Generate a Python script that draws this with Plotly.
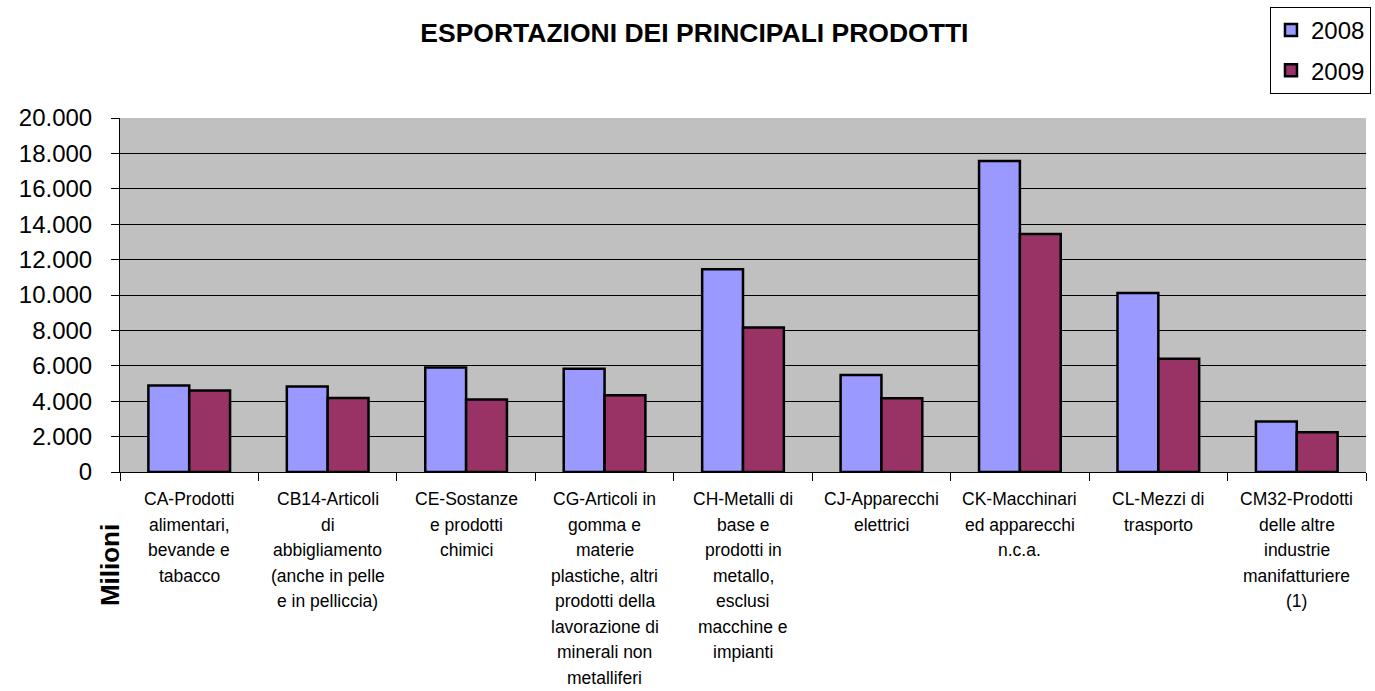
import plotly.graph_objects as go

categories = [
    "CA-Prodotti alimentari, bevande e tabacco",
    "CB14-Articoli di abbigliamento (anche in pelle e in pelliccia)",
    "CE-Sostanze e prodotti chimici",
    "CG-Articoli in gomma e materie plastiche, altri prodotti della lavorazione di minerali non metalliferi",
    "CH-Metalli di base e prodotti in metallo, esclusi macchine e impianti",
    "CJ-Apparecchi elettrici",
    "CK-Macchinari ed apparecchi n.c.a.",
    "CL-Mezzi di trasporto",
    "CM32-Prodotti delle altre industrie manifatturiere (1)",
]
category_lines = [
    ["CA-Prodotti", "alimentari,", "bevande e", "tabacco"],
    ["CB14-Articoli", "di", "abbigliamento", "(anche in pelle", "e in pelliccia)"],
    ["CE-Sostanze", "e prodotti", "chimici"],
    ["CG-Articoli in", "gomma e", "materie", "plastiche, altri", "prodotti della",
     "lavorazione di", "minerali non", "metalliferi"],
    ["CH-Metalli di", "base e", "prodotti in", "metallo,", "esclusi",
     "macchine e", "impianti"],
    ["CJ-Apparecchi", "elettrici"],
    ["CK-Macchinari", "ed apparecchi", "n.c.a."],
    ["CL-Mezzi di", "trasporto"],
    ["CM32-Prodotti", "delle altre", "industrie", "manifatturiere", "(1)"],
]
values_2008 = [4880, 4830, 5900, 5830, 11450, 5480, 17570, 10110, 2860]
values_2009 = [4600, 4180, 4100, 4340, 8170, 4170, 13450, 6400, 2240]
y_ticks = [0, 2000, 4000, 6000, 8000, 10000, 12000, 14000, 16000, 18000, 20000]

FONT = "Liberation Sans, Arial, sans-serif"

fig = go.Figure()
fig.add_trace(go.Bar(
    x=categories, y=values_2008, name="2008",
    marker=dict(color="#9999FF", line=dict(color="black", width=2.5)),
    legendgroup="a",
))
fig.add_trace(go.Bar(
    x=categories, y=values_2009, name="2009",
    marker=dict(color="#993366", line=dict(color="black", width=2.5)),
    legendgroup="b",
))

annotations = []
for cat, lines in zip(categories, category_lines):
    for i, line in enumerate(lines):
        annotations.append(dict(
            x=cat, xref="x", y=0, yref="paper",
            text=line, showarrow=False,
            xanchor="center", yanchor="middle",
            yshift=-(27 + i * 25.5),
            font=dict(family=FONT, size=17.5, color="black"),
        ))
annotations.append(dict(
    x=0, xref="paper", y=-0.263, yref="paper",
    xshift=-10, text="<b>Milioni</b>", textangle=-90, showarrow=False,
    xanchor="center", yanchor="middle",
    font=dict(family=FONT, size=26, color="black"),
))

fig.update_layout(
    width=1375, height=691,
    margin=dict(l=120, r=4, t=118, b=219),
    paper_bgcolor="white",
    plot_bgcolor="#C0C0C0",
    separators=",.",
    barmode="group",
    bargap=0.41,
    bargroupgap=0,
    title=dict(
        text="<b>ESPORTAZIONI DEI PRINCIPALI PRODOTTI</b>",
        x=0.505, xref="container", xanchor="center",
        y=1 - 33 / 691, yref="container", yanchor="middle",
        font=dict(family=FONT, size=26.5, color="black"),
    ),
    legend=dict(
        x=1 + 5 / 1251, xanchor="right", xref="paper",
        y=1 + 111 / 354, yanchor="top", yref="paper",
        bgcolor="white", bordercolor="black", borderwidth=1,
        font=dict(family=FONT, size=24, color="black"),
        itemwidth=30, tracegroupgap=6, traceorder="grouped",
    ),
    annotations=annotations,
    showlegend=True,
)
fig.update_xaxes(
    type="category",
    showticklabels=False,
    ticks="outside", tickson="boundaries", ticklen=8, tickcolor="black",
    showline=True, linecolor="black", linewidth=1,
    showgrid=False,
)
fig.update_yaxes(
    range=[0, 20000],
    tickvals=y_ticks,
    tickformat=",d",
    ticks="outside", ticklen=8, tickcolor="black",
    ticklabelstandoff=14,
    tickfont=dict(family=FONT, size=24, color="black"),
    showline=True, linecolor="black", linewidth=1,
    showgrid=True, gridcolor="black", gridwidth=1,
    zeroline=False,
)

fig.write_html(
    "out.html",
    config={"displayModeBar": False},
    post_script="document.body.style.margin='0';document.body.style.padding='0';",
)
